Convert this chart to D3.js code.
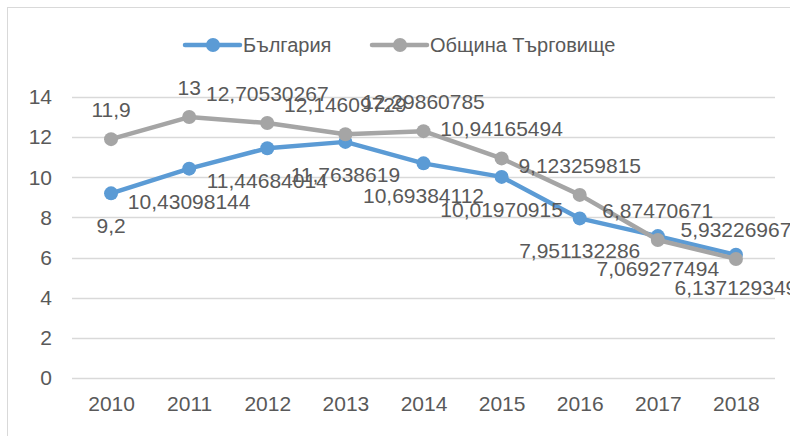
<!DOCTYPE html>
<html>
<head>
<meta charset="utf-8">
<script src="https://cdn.jsdelivr.net/npm/d3@7"></script>
<style>
  body { margin: 0; background: #fff; }
  text { font-family: "Liberation Sans", Arial, sans-serif; fill: #595959; }
</style>
</head>
<body>
<div id="chart"></div>
<script>
const years = ["2010", "2011", "2012", "2013", "2014", "2015", "2016", "2017", "2018"];
const bulgaria = [9.2, 10.43098144, 11.44684014, 11.7638619, 10.69384112, 10.01970915, 7.951132286, 7.069277494, 6.137129349];
const targovishte = [11.9, 13, 12.70530267, 12.14609729, 12.29860785, 10.94165494, 9.123259815, 6.87470671, 5.93226967];
const yTicks = [0, 2, 4, 6, 8, 10, 12, 14];
const seriesNames = ["България", "Община Търговище"];

(function () {
    let width = 790, height = 436;
    let svg = d3.select("#chart")
        .append("svg")
        .attr("width", width)
        .attr("height", height);

    // chart frame
    svg.append("rect")
        .attr("x", 7.5)
        .attr("y", 7.5)
        .attr("width", 820)
        .attr("height", 460)
        .attr("fill", "none")
        .attr("stroke", "#d9d9d9");

    let x = d3.scalePoint()
        .domain(years)
        .range([72, 775])
        .padding(0.5);
    let y = d3.scaleLinear()
        .domain([0, 14])
        .range([378, 97]);

    // gridlines
    svg.append("g")
        .selectAll("line")
        .data(yTicks)
        .enter()
        .append("line")
        .attr("x1", 72)
        .attr("x2", 775)
        .attr("y1", d => Math.round(y(d)) + 0.5)
        .attr("y2", d => Math.round(y(d)) + 0.5)
        .attr("stroke", "#d9d9d9")
        .attr("stroke-width", 1.5);

    // y axis labels
    let yAxis = svg.append("g")
        .attr("transform", "translate(52,0)")
        .call(d3.axisLeft(y).tickValues(yTicks).tickSize(0).tickPadding(0));
    yAxis.select(".domain").remove();
    yAxis.selectAll("text")
        .attr("font-size", "21px")
        .attr("font-family", "Liberation Sans, Arial, sans-serif")
        .attr("fill", "#595959");

    // x axis labels
    let xAxis = svg.append("g")
        .attr("transform", "translate(0,396)")
        .call(d3.axisBottom(x).tickSize(0).tickPadding(0));
    xAxis.select(".domain").remove();
    xAxis.selectAll("text")
        .attr("font-size", "21px")
        .attr("font-family", "Liberation Sans, Arial, sans-serif")
        .attr("fill", "#595959");

    let series = [
        { name: seriesNames[0], values: bulgaria, color: "#5b9bd5", dy: 40 },
        { name: seriesNames[1], values: targovishte, color: "#a5a5a5", dy: -22 }
    ];

    let line = d3.line()
        .x((d, i) => x(years[i]))
        .y(d => y(d));

    series.forEach(s => {
        svg.append("path")
            .attr("d", line(s.values))
            .attr("fill", "none")
            .attr("stroke", s.color)
            .attr("stroke-width", 4.5)
            .attr("stroke-linejoin", "round")
            .attr("stroke-linecap", "round");
        svg.append("g")
            .selectAll("circle")
            .data(s.values)
            .enter()
            .append("circle")
            .attr("cx", (d, i) => x(years[i]))
            .attr("cy", d => y(d))
            .attr("r", 7)
            .attr("fill", s.color);
    });

    // data labels
    series.forEach(s => {
        svg.append("g")
            .selectAll("text")
            .data(s.values)
            .enter()
            .append("text")
            .attr("x", (d, i) => x(years[i]))
            .attr("y", d => y(d) + s.dy)
            .attr("text-anchor", "middle")
            .attr("font-size", "21px")
            .attr("fill", "#404040")
            .text(d => String(d).replace(".", ","));
    });

    // legend
    let legendX = [185, 372];
    let lg = svg.append("g")
        .selectAll("g")
        .data(series)
        .enter()
        .append("g")
        .attr("transform", (d, i) => `translate(${legendX[i]},45)`);
    lg.append("line")
        .attr("x1", 0)
        .attr("x2", 55)
        .attr("stroke", d => d.color)
        .attr("stroke-width", 4.5)
        .attr("stroke-linecap", "round");
    lg.append("circle")
        .attr("cx", 28)
        .attr("r", 7)
        .attr("fill", d => d.color);
    lg.append("text")
        .attr("x", 58)
        .attr("y", 7)
        .attr("font-size", "20px")
        .attr("fill", "#595959")
        .text(d => d.name);
})();
</script>
</body>
</html>
